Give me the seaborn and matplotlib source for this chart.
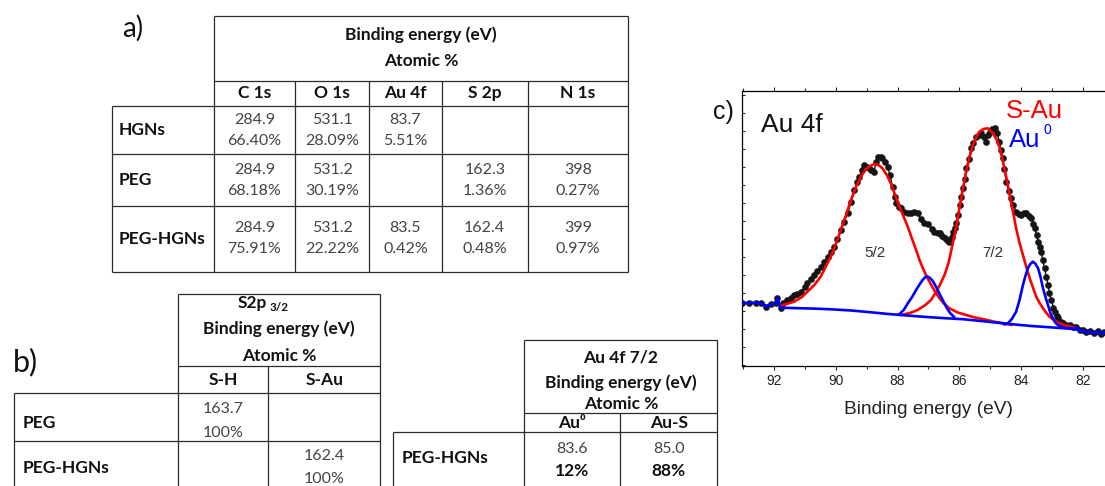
import matplotlib
matplotlib.use("Agg")
import matplotlib.pyplot as plt
import seaborn as sns
import pandas as pd
from matplotlib.ticker import MultipleLocator

# ---------------- data: table a ----------------
table_a_header = ["Binding energy (eV)", "Atomic %"]
table_a_columns = ["C 1s", "O 1s", "Au 4f", "S 2p", "N 1s"]
table_a_rows = ["HGNs", "PEG", "PEG-HGNs"]
table_a_energy = [["284.9", "531.1", "83.7", "", ""],
                  ["284.9", "531.2", "", "162.3", "398"],
                  ["284.9", "531.2", "83.5", "162.4", "399"]]
table_a_percent = [["66.40%", "28.09%", "5.51%", "", ""],
                   ["68.18%", "30.19%", "", "1.36%", "0.27%"],
                   ["75.91%", "22.22%", "0.42%", "0.48%", "0.97%"]]

# ---------------- data: table b ----------------
table_b_header = ["Binding energy (eV)", "Atomic %"]
table_b_columns = ["S-H", "S-Au"]
table_b_rows = ["PEG", "PEG-HGNs"]
table_b_energy = [["163.7", ""], ["", "162.4"]]
table_b_percent = [["100%", ""], ["", "100%"]]

# ---------------- data: table c ----------------
table_c_header = ["Au 4f 7/2", "Binding energy (eV)", "Atomic %"]
table_c_columns = ["Au\u2070", "Au-S"]
table_c_rows = ["PEG-HGNs"]
table_c_energy = [["83.6", "85.0"]]
table_c_percent = [["12%", "88%"]]

# ---------------- data: XPS Au 4f spectrum ----------------
data_ev = [93.03, 92.8, 92.6, 92.43, 92.27, 92.1, 91.95, 91.89, 91.78, 91.7, 91.57, 91.45,
           91.35, 91.25, 91.13, 91.0, 90.92, 90.8, 90.7, 90.6, 90.49, 90.38, 90.27, 90.15,
           90.05, 89.95, 89.84, 89.73, 89.62, 89.5, 89.4, 89.3, 89.24, 89.15, 89.08, 89.0,
           88.92, 88.85, 88.76, 88.7, 88.65, 88.55, 88.49, 88.4, 88.32, 88.25, 88.16, 88.1,
           88.05, 87.95, 87.89, 87.8, 87.67, 87.55, 87.46, 87.35, 87.25, 87.13, 87.0, 86.9,
           86.81, 86.7, 86.64, 86.55, 86.48, 86.4, 86.32, 86.25, 86.21, 86.15, 86.1, 86.05,
           85.99, 85.94, 85.89, 85.83, 85.78, 85.7, 85.62, 85.55, 85.45, 85.37, 85.29, 85.2,
           85.13, 85.08, 85.02, 84.95, 84.86, 84.78, 84.7, 84.65, 84.59, 84.55, 84.48, 84.4,
           84.32, 84.25, 84.16, 84.08, 84.0, 83.9, 83.83, 83.75, 83.67, 83.6, 83.56, 83.5,
           83.45, 83.4, 83.35, 83.3, 83.24, 83.18, 83.13, 83.08, 83.02, 82.95, 82.91, 82.85,
           82.81, 82.72, 82.64, 82.55, 82.43, 82.32, 82.21, 82.1, 82.0, 81.9, 81.78, 81.65,
           81.5, 81.4, 81.3]
data_int = [62, 62, 62.5, 61.7, 58.3, 61, 62, 66.7, 56.7, 62, 65, 67,
            70, 71, 73.3, 78, 81.7, 86, 90, 94, 98.3, 103, 108.3, 113,
            118.3, 126, 135, 143, 151.7, 163, 175, 183, 188.3, 195, 200, 198,
            196.7, 195, 193.3, 203, 208.3, 208, 206.7, 203, 198.3, 190, 178.3, 168,
            161.7, 158, 156.7, 153, 151.7, 152, 153.3, 151.7, 146, 141.7, 140.5, 136,
            133.3, 131.5, 131.7, 129, 126.7, 125, 123.3, 128, 133.3, 137, 141.7, 150,
            160, 168, 176.7, 186, 196.7, 206, 216.7, 222, 228.3, 230, 231.7, 228,
            223.3, 230, 233.3, 236, 236.7, 232, 223.3, 215, 206.7, 196, 183.3, 174,
            166.7, 160, 153.3, 151, 150, 151.5, 151.7, 149, 146.7, 141, 136.7, 130,
            123.3, 118, 113.3, 105, 96.7, 88, 80, 72, 65, 57, 53.3, 49,
            46.7, 43, 41.7, 40.5, 40, 38.5, 38, 35, 35.5, 33, 34.5, 32,
            34, 31.5, 33.5]

# S-Au 4f5/2 component (red)
sau52_ev = [91.78, 91.6, 91.35, 91.1, 90.92, 90.7, 90.49, 90.3, 90.16, 90.0, 89.84, 89.67,
            89.51, 89.35, 89.19, 89.05, 88.92, 88.8, 88.7, 88.6, 88.49, 88.35, 88.22, 88.08,
            87.94, 87.8, 87.67, 87.53, 87.4, 87.29, 87.18, 87.05, 86.91, 86.78, 86.64, 86.5,
            86.32, 86.05, 85.78, 85.5, 85.24, 84.9, 84.59, 84.3]
sau52_int = [59.3, 61, 63.3, 68, 73.3, 80, 88.3, 100, 108.3, 121, 135, 150,
             165, 178, 188.3, 195, 198.3, 200.5, 201, 199.5, 196.7, 190, 181.7, 170,
             158.3, 148, 138.3, 126, 115, 105, 96.7, 88, 80, 73, 66.7, 61.5,
             56.7, 52.5, 50, 47.5, 46, 43.5, 41.7, 40]

# S-Au 4f7/2 component (red)
sau72_ev = [88.0, 87.89, 87.6, 87.35, 87.1, 86.92, 86.75, 86.6, 86.48, 86.35, 86.21, 86.1,
            85.99, 85.89, 85.78, 85.67, 85.56, 85.45, 85.35, 85.22, 85.08, 84.95, 84.81, 84.7,
            84.59, 84.48, 84.37, 84.26, 84.16, 84.05, 83.94, 83.83, 83.72, 83.6, 83.51, 83.4,
            83.29, 83.18, 83.08, 82.9, 82.75, 82.55, 82.32, 82.2]
sau72_int = [50.5, 50, 52, 55, 60, 65, 73, 82, 90, 102, 122, 138,
             158, 175, 193, 208, 220, 228, 233.3, 236, 236.7, 233, 226.7, 218,
             204, 188, 170, 153, 136.7, 122, 110, 98, 86.7, 76, 68.3, 62,
             56.7, 52, 48.3, 44, 41.7, 39.5, 38, 37]

# Au0 4f5/2 component (blue)
au052_ev = [87.94, 87.8, 87.67, 87.53, 87.4, 87.3, 87.19, 87.1, 87.03, 86.95, 86.86, 86.75,
            86.65, 86.54, 86.43, 86.3, 86.16]
au052_int = [51, 55, 61.7, 68, 75, 80, 85, 88, 88.5, 87, 84, 78,
             71.7, 65, 58.3, 52, 47.7]

# Au0 4f7/2 component (blue)
au072_ev = [84.55, 84.43, 84.3, 84.16, 84.05, 83.94, 83.85, 83.78, 83.7, 83.62, 83.54, 83.45,
            83.37, 83.29, 83.2, 83.13, 83.05, 82.97, 82.88, 82.81, 82.7]
au072_int = [40.5, 41.5, 46, 53.3, 65, 80, 90, 96.7, 101, 103.3, 101.5, 96.7,
             88, 76.7, 67, 60, 52, 46.7, 42, 40, 38.5]

# background (blue)
bg_ev = [91.78, 91.2, 90.6, 90.16, 89.5, 88.86, 88.3, 87.89, 87.4, 86.92, 86.4, 85.84,
         85.3, 84.76, 84.2, 83.67, 83.1, 82.59, 82.16]
bg_int = [57.3, 56.8, 56.3, 55.7, 54.5, 52.7, 51, 50, 48.8, 47.7, 46.7, 45.7,
          44, 42.3, 40.5, 39, 37.8, 36.7, 35.7]

# blue trace of raw data at both ends
endl_ev = [93.03, 92.8, 92.6, 92.43, 92.3, 92.27, 92.15, 92.0, 91.92, 91.89, 91.84, 91.8]
endl_int = [62, 62, 62.5, 61.7, 60, 58.3, 60, 61, 63, 67, 62, 57.3]
endr_ev = [82.6, 82.43, 82.3, 82.2, 82.1, 82.0, 81.9, 81.78, 81.65, 81.5, 81.4, 81.3, 81.0]
endr_int = [37, 37, 36, 37.5, 33.5, 35, 32, 34, 31.5, 33.5, 31, 33, 32]

# ---------------- figure ----------------
sns.set_style("white")
W, H = 1105, 486
fig = plt.figure(figsize=(W / 100, H / 100), dpi=100)

TABLE_FONT = ["Lato", "DejaVu Sans"]
PLOT_FONT = ["Liberation Sans", "DejaVu Sans"]
RED = "#ff0000"
BLUE = "#0000ff"
HS = 12.5   # bold header size
VS = 11.5   # value size

# ---------- spectrum axes ----------
left_px, right_px, top_px, bot_px = 742.3, 1113.7, 91.0, 365.7
ax = fig.add_axes([left_px / W, (H - bot_px) / H, (right_px - left_px) / W, (bot_px - top_px) / H])

df_data = pd.DataFrame({"ev": data_ev, "y": data_int})
sns.lineplot(data=df_data, x="ev", y="y", ax=ax, color="black", lw=0.9, sort=False,
             estimator=None, zorder=2)
sns.scatterplot(data=df_data, x="ev", y="y", ax=ax, color="#151515", s=20,
                edgecolor="#151515", linewidth=0.3, zorder=3)

for ev, yy, c in [(sau52_ev, sau52_int, RED), (sau72_ev, sau72_int, RED),
                  (bg_ev, bg_int, BLUE), (au052_ev, au052_int, BLUE),
                  (au072_ev, au072_int, BLUE), (endl_ev, endl_int, BLUE),
                  (endr_ev, endr_int, BLUE)]:
    d = pd.DataFrame({"ev": ev, "y": yy})
    sns.lineplot(data=d, x="ev", y="y", ax=ax, color=c, lw=1.9, sort=False,
                 estimator=None, zorder=4)

ax.set_xlim(93.03, 81.0)
ax.set_ylim(-0.7, 274)
ax.xaxis.set_major_locator(MultipleLocator(2))
ax.xaxis.set_minor_locator(MultipleLocator(1))
ax.yaxis.set_major_locator(MultipleLocator(36))
ax.yaxis.set_minor_locator(MultipleLocator(18))
ax.tick_params(axis="x", which="major", bottom=True, top=True, direction="out", length=3,
               width=0.8, pad=3, labelsize=10, labelcolor="#222222")
ax.tick_params(axis="x", which="minor", bottom=True, top=True, direction="out", length=2,
               width=0.8)
ax.tick_params(axis="y", which="both", left=True, direction="in", length=2.5, width=0.8,
               labelleft=False)
for lab in ax.get_xticklabels():
    lab.set_fontfamily(PLOT_FONT)
ax.set_ylabel("")
ax.set_xlabel("Binding energy (eV)", fontsize=13.8, family=PLOT_FONT, color="#222222",
              labelpad=9)
for sp in ax.spines.values():
    sp.set_color("black")
    sp.set_linewidth(0.9)
ax.patch.set_alpha(0)

# ---------- overlay for tables & annotations ----------
ov = fig.add_axes([0, 0, 1, 1], zorder=-1)
ov.set_xlim(0, W)
ov.set_ylim(H, 0)
ov.axis("off")

LC = "#2a2a2a"
LW = 0.9


def hline(y, x0, x1):
    ov.plot([x0, x1], [y, y], color=LC, lw=LW, solid_capstyle="butt")


def vline(x, y0, y1):
    ov.plot([x, x], [y0, y1], color=LC, lw=LW, solid_capstyle="butt")


def txt(x, y, s, bold=False, size=None, ha="center", color=None):
    if size is None:
        size = HS if bold else VS
    ov.text(x, y, s, ha=ha, va="center", fontsize=size, family=TABLE_FONT,
            fontweight="bold" if bold else "normal",
            color=color if color else ("#111111" if bold else "#444444"))


# ----- table a -----
ax0, ax1 = 214, 628
rl = 111.7
a_top, a_hb, a_cb = 15.7, 80.7, 106
a_rows = [106, 154.3, 205.7, 271.7]
a_cols = [214, 295, 369.3, 441.7, 527.7, 628]
hline(a_top, ax0, ax1)
hline(a_hb, ax0, ax1)
for y in a_rows:
    hline(y, rl, ax1)
vline(ax0, a_top, a_rows[-1])
vline(ax1, a_top, a_rows[-1])
vline(rl, a_rows[0], a_rows[-1])
for x in a_cols[1:-1]:
    vline(x, a_hb, a_rows[-1])
txt((ax0 + ax1) / 2, 35, table_a_header[0], bold=True)
txt((ax0 + ax1) / 2, 61.5, table_a_header[1], bold=True)
for j, c in enumerate(table_a_columns):
    cx = (a_cols[j] + a_cols[j + 1]) / 2
    txt(cx, 93.3, c, bold=True)
for i, r in enumerate(table_a_rows):
    y0, y1 = a_rows[i], a_rows[i + 1]
    ym = (y0 + y1) / 2
    txt(118.3, ym, r, bold=True, ha="left")
    for j in range(len(table_a_columns)):
        cx = (a_cols[j] + a_cols[j + 1]) / 2
        txt(cx, ym - 10.5, table_a_energy[i][j])
        txt(cx, ym + 10.5, table_a_percent[i][j])
txt(133, 28, "a)", size=20, color="#111111")

# ----- table b -----
b_l, b_r, b_split = 177.7, 380, 268.3
b_top, b_hb, b_cb = 294.3, 366, 393.3
b_rows = [393.3, 441, 490]
b_rl = 14
hline(b_top, b_l, b_r)
hline(b_hb, b_l, b_r)
hline(b_rows[0], b_rl, b_r)
hline(b_rows[1], b_rl, b_r)
vline(b_l, b_top, 490)
vline(b_r, b_top, 490)
vline(b_split, b_hb, 490)
vline(b_rl, b_rows[0], 490)
ov.text(267, 303, "S2p", ha="right", va="center", fontsize=HS, family=TABLE_FONT,
        fontweight="bold", color="#111111")
ov.text(270, 307, "3/2", ha="left", va="center", fontsize=8.5, family=TABLE_FONT,
        fontweight="bold", color="#111111")
txt((b_l + b_r) / 2, 329, table_b_header[0], bold=True)
txt((b_l + b_r) / 2, 355.5, table_b_header[1], bold=True)
b_cols = [b_l, b_split, b_r]
for j, c in enumerate(table_b_columns):
    txt((b_cols[j] + b_cols[j + 1]) / 2, 380, c, bold=True)
b_label_y = [423, 468]
b_val_y = [(409, 433), (456, 479)]
for i, r in enumerate(table_b_rows):
    txt(23, b_label_y[i], r, bold=True, ha="left")
    for j in range(2):
        cx = (b_cols[j] + b_cols[j + 1]) / 2
        txt(cx, b_val_y[i][0], table_b_energy[i][j])
        txt(cx, b_val_y[i][1], table_b_percent[i][j])
txt(25, 362, "b)", size=22, color="#111111")

# ----- table c -----
c_l, c_r, c_split = 524.3, 717.3, 620
c_top, c_hb, c_cb = 340, 413.3, 432
c_rl = 392.7
hline(c_top, c_l, c_r)
hline(c_hb, c_l, c_r)
hline(c_cb, c_rl, c_r)
vline(c_l, c_top, 490)
vline(c_r, c_top, 490)
vline(c_split, c_hb, 490)
vline(c_rl, c_cb, 490)
for k, yv in enumerate([357.7, 382.7, 404]):
    txt((c_l + c_r) / 2, yv, table_c_header[k], bold=True)
c_cols = [c_l, c_split, c_r]
for j, c in enumerate(table_c_columns):
    txt((c_cols[j] + c_cols[j + 1]) / 2, 422.5, c, bold=True)
for i, r in enumerate(table_c_rows):
    txt(401.7, 457.7, r, bold=True, ha="left")
    for j in range(2):
        cx = (c_cols[j] + c_cols[j + 1]) / 2
        txt(cx, 448.7, table_c_energy[i][j])
        txt(cx, 471, table_c_percent[i][j], bold=True)

# ----- spectrum annotations -----
ov.text(723, 112, "c)", ha="center", va="center", fontsize=18, family=PLOT_FONT, color="#111111")
ov.text(760.7, 125, "Au 4f", ha="left", va="center", fontsize=19, family=PLOT_FONT, color="#111111")
ov.text(1006, 111, "S-Au", ha="left", va="center", fontsize=18.5, family=PLOT_FONT, color=RED)
ov.text(1009, 140, "Au", ha="left", va="center", fontsize=18.5, family=PLOT_FONT, color=BLUE)
ov.text(1043, 130, "0", ha="left", va="center", fontsize=10, family=PLOT_FONT, color=BLUE)
ov.text(875, 253, "5/2", ha="center", va="center", fontsize=11, family=PLOT_FONT, color="#333333")
ov.text(993.3, 253, "7/2", ha="center", va="center", fontsize=11, family=PLOT_FONT, color="#333333")

fig.savefig("out.png", dpi=100)
